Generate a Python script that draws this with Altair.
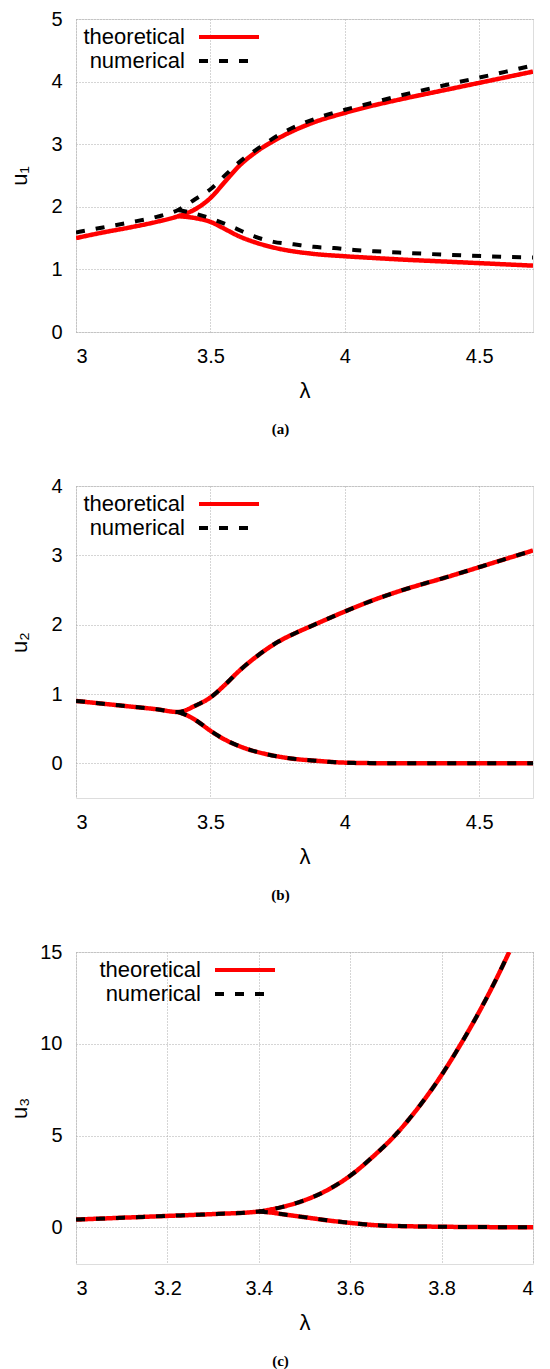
import altair as alt
import pandas as pd

SERIES = ["theoretical", "numerical"]
COLORS = ["#ff0000", "#000000"]
DASHES = [[1, 0], [9, 11]]

# ---------------- panel (a): u1 ----------------
A_T_UP_X = [3.0, 3.1, 3.2, 3.3, 3.38, 3.443, 3.5, 3.556, 3.606, 3.668, 3.755, 3.879, 4.0, 4.117, 4.2, 4.4, 4.6, 4.7]
A_T_UP_Y = [1.50, 1.59, 1.67, 1.76, 1.85, 1.96, 2.14, 2.41, 2.65, 2.87, 3.10, 3.34, 3.50, 3.63, 3.71, 3.89, 4.07, 4.16]
A_T_LO_X = [3.38, 3.443, 3.5, 3.556, 3.606, 3.668, 3.755, 3.879, 4.0, 4.117, 4.2, 4.4, 4.6, 4.7]
A_T_LO_Y = [1.85, 1.82, 1.76, 1.64, 1.53, 1.43, 1.33, 1.25, 1.21, 1.18, 1.16, 1.12, 1.08, 1.06]
A_N_UP_X = [3.0, 3.1, 3.2, 3.3, 3.38, 3.443, 3.5, 3.556, 3.612, 3.68, 3.755, 3.879, 4.0, 4.092, 4.2, 4.4, 4.6, 4.7]
A_N_UP_Y = [1.59, 1.67, 1.75, 1.84, 1.95, 2.12, 2.28, 2.51, 2.73, 2.94, 3.15, 3.39, 3.55, 3.65, 3.77, 3.97, 4.16, 4.26]
A_N_LO_X = [3.38, 3.443, 3.511, 3.586, 3.661, 3.735, 3.81, 3.884, 3.96, 4.035, 4.11, 4.2, 4.4, 4.6, 4.7]
A_N_LO_Y = [1.95, 1.89, 1.80, 1.67, 1.53, 1.44, 1.40, 1.36, 1.34, 1.31, 1.29, 1.27, 1.23, 1.20, 1.19]

# ---------------- panel (b): u2 ----------------
B_UP_X = [3.0, 3.1, 3.2, 3.3, 3.38, 3.443, 3.5, 3.556, 3.606, 3.668, 3.755, 3.817, 3.887, 4.0, 4.117, 4.2, 4.4, 4.6, 4.7]
B_UP_Y = [0.90, 0.86, 0.82, 0.78, 0.74, 0.83, 0.95, 1.14, 1.33, 1.53, 1.76, 1.88, 2.00, 2.19, 2.37, 2.48, 2.71, 2.95, 3.07]
B_LO_X = [3.38, 3.42, 3.45, 3.5, 3.55, 3.6, 3.65, 3.7, 3.8, 3.9, 4.0, 4.2, 4.7]
B_LO_Y = [0.74, 0.68, 0.61, 0.47, 0.35, 0.26, 0.19, 0.14, 0.07, 0.035, 0.01, 0.0, 0.0]

# ---------------- panel (c): u3 ----------------
C_UP_X = [3.0, 3.1, 3.2, 3.3, 3.4, 3.428, 3.45, 3.503, 3.548, 3.6, 3.652, 3.697, 3.742, 3.8, 3.84, 3.877, 3.915, 3.948]
C_UP_Y = [0.42, 0.52, 0.62, 0.72, 0.86, 0.98, 1.10, 1.50, 2.00, 2.81, 3.90, 4.98, 6.30, 8.30, 9.90, 11.5, 13.3, 15.0]
C_LO_X = [3.4, 3.428, 3.45, 3.503, 3.55, 3.6, 3.675, 3.8, 3.9, 4.0]
C_LO_Y = [0.86, 0.80, 0.72, 0.54, 0.38, 0.24, 0.09, 0.03, 0.01, 0.0]


def table(series, branches):
    rows = []
    for name, (xs, ys) in branches.items():
        for x, y in zip(xs, ys):
            rows.append({"lam": x, "u": y, "series": series, "branch": name})
    return pd.DataFrame(rows)


FONT = "Liberation Sans"
KEY_PATH = "M-2.857,0H2.857"   # legend key: a 60px horizontal stroke at symbolSize 441


def panel(theory, numer, xdom, xvals, ydom, yvals, ytitle, caption, width, height,
          title_pad, leg_x):
    legend = alt.Legend(
        title=None, orient="none", legendX=leg_x, legendY=5.5,
        symbolType=KEY_PATH, symbolSize=441, symbolStrokeWidth=4,
        labelFontSize=22, labelFont=FONT, labelColor="black",
        labelAlign="right", labelOffset={"expr": "-56.5"}, rowPadding=-2, padding=0,
    )
    x = alt.X("lam:Q", scale=alt.Scale(domain=xdom, nice=False, zero=False),
              axis=alt.Axis(values=xvals, format="~g", title="λ", grid=True,
                            gridDash=[1, 2], gridColor="#aaaaaa", ticks=False,
                            domain=False, labelFontSize=20, labelFont=FONT,
                            labelColor="black", labelPadding=14,
                            titleFontSize=22, titleFont=FONT, titleFontWeight="normal",
                            titleColor="black", titlePadding=14))
    y = alt.Y("u:Q", scale=alt.Scale(domain=ydom, nice=False, zero=False),
              axis=alt.Axis(values=yvals, format="~g", title=ytitle, grid=True,
                            gridDash=[1, 2], gridColor="#aaaaaa", ticks=False,
                            domain=False, labelFontSize=20, labelFont=FONT,
                            labelColor="black", labelPadding=14,
                            titleFontSize=22, titleFont=FONT, titleFontWeight="normal",
                            titleColor="black", titlePadding=title_pad))
    color = alt.Color("series:N", scale=alt.Scale(domain=SERIES, range=COLORS), legend=legend)
    dash = alt.StrokeDash("series:N", scale=alt.Scale(domain=SERIES, range=DASHES), legend=legend)
    red = alt.Chart(theory).mark_line(strokeWidth=4.5, interpolate="monotone", clip=True).encode(
        x=x, y=y, color=color, strokeDash=dash, detail="branch:N")
    blk = alt.Chart(numer).mark_line(strokeWidth=4, interpolate="monotone", clip=True).encode(
        x=x, y=y, color=color, strokeDash=dash, detail="branch:N")
    return alt.layer(red, blk).properties(
        width=width, height=height,
        title=alt.TitleParams(caption, orient="bottom", anchor="middle", font="Liberation Serif",
                              fontSize=15, fontWeight="bold", color="black", offset=21, dx=-24),
    )


pa = panel(
    table("theoretical", {"up": (A_T_UP_X, A_T_UP_Y), "lo": (A_T_LO_X, A_T_LO_Y)}),
    table("numerical", {"up": (A_N_UP_X, A_N_UP_Y), "lo": (A_N_LO_X, A_N_LO_Y)}),
    [3, 4.7], [3, 3.5, 4, 4.5], [0, 5], [0, 1, 2, 3, 4, 5], "u₁", "(a)", 457, 313, 19, 140.5)
pb = panel(
    table("theoretical", {"up": (B_UP_X, B_UP_Y), "lo": (B_LO_X, B_LO_Y)}),
    table("numerical", {"up": (B_UP_X, B_UP_Y), "lo": (B_LO_X, B_LO_Y)}),
    [3, 4.7], [3, 3.5, 4, 4.5], [-0.5, 4], [0, 1, 2, 3, 4], "u₂", "(b)", 457, 312, 19, 140.5)
pc = panel(
    table("theoretical", {"up": (C_UP_X, C_UP_Y), "lo": (C_LO_X, C_LO_Y)}),
    table("numerical", {"up": (C_UP_X, C_UP_Y), "lo": (C_LO_X, C_LO_Y)}),
    [3, 4], [3, 3.2, 3.4, 3.6, 3.8, 4], [-2, 15], [0, 5, 10, 15], "u₃", "(c)", 457, 312, 8, 156.5)

chart = alt.vconcat(pa, pb, pc, spacing=37).resolve_scale(
    color="independent", strokeDash="independent", x="independent", y="independent"
).resolve_legend(color="independent", strokeDash="independent").properties(
    padding=0
).configure_view(stroke="#555555", strokeWidth=1.5).configure(background="white")

chart.save("out.html", embed_options={"renderer": "svg", "actions": False})
